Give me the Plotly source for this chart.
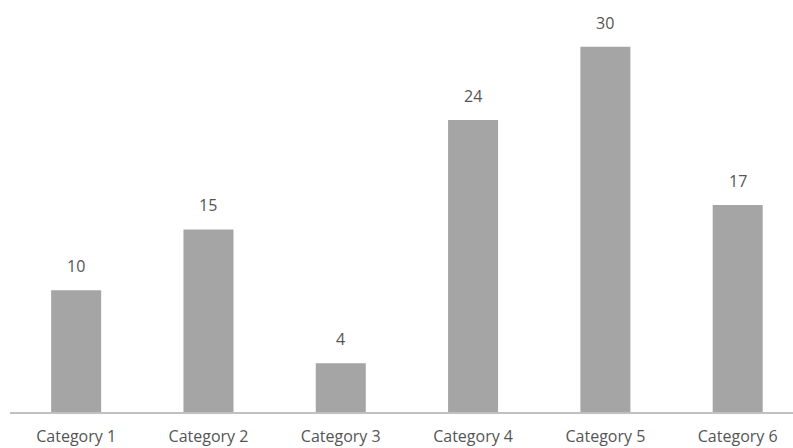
import plotly.graph_objects as go

categories = ["Category 1", "Category 2", "Category 3", "Category 4", "Category 5", "Category 6"]
values = [10, 15, 4, 24, 30, 17]

bar_color = "#a5a5a5"
text_color = "#555555"
font_family = "'Open Sans', sans-serif"

fig = go.Figure()
fig.add_trace(go.Bar(
    x=categories, y=values,
    marker=dict(color=bar_color, line=dict(width=0)),
    width=0.378,
    hoverinfo="skip",
))

for c, v in zip(categories, values):
    fig.add_annotation(
        x=c, y=v, text=str(v), showarrow=False,
        yanchor="middle", yshift=24,
        font=dict(family=font_family, size=16, color=text_color),
    )

fig.update_layout(
    width=793, height=448,
    margin=dict(l=10, r=0, t=0, b=36),
    paper_bgcolor="white", plot_bgcolor="white",
    showlegend=False,
    xaxis=dict(
        range=[-0.5, 5.418],
        showline=True, linecolor="#c0c0c0", linewidth=2,
        showgrid=False, zeroline=False, ticks="",
        ticklabelstandoff=9,
        tickfont=dict(family=font_family, size=16, color=text_color),
    ),
    yaxis=dict(
        range=[0, 33.85], visible=False, showgrid=False, zeroline=False,
    ),
)

fig.write_html("out.html")
